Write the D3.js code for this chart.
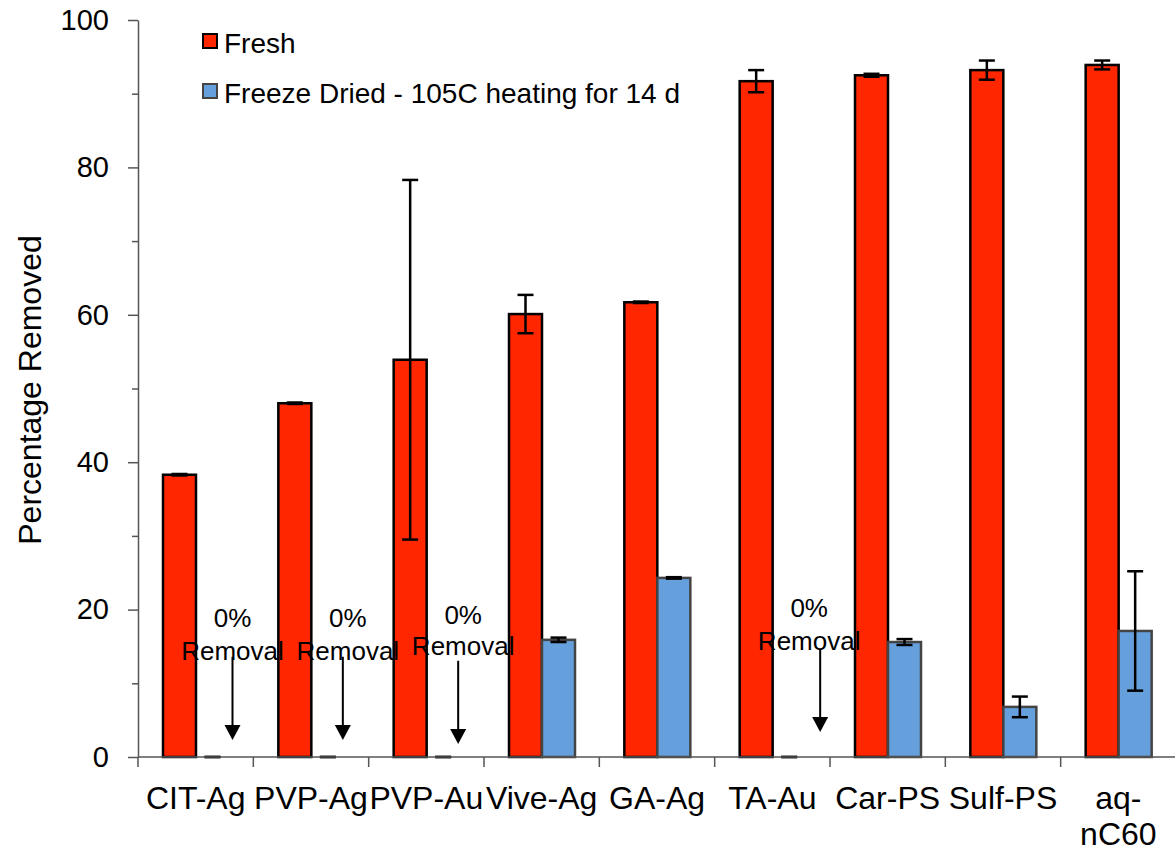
<!DOCTYPE html>
<html>
<head>
<meta charset="utf-8">
<script src="https://cdn.jsdelivr.net/npm/d3@7"></script>
<style>
  body { margin: 0; background: #fff; }
  text { font-family: "Liberation Sans", Arial, sans-serif; fill: #000; }
</style>
</head>
<body>
<svg id="chart"></svg>
<script>
// chart size
var width = 1175,
    height = 848;

// categories and series
var categories = ["CIT-Ag", "PVP-Ag", "PVP-Au", "Vive-Ag", "GA-Ag", "TA-Au", "Car-PS", "Sulf-PS", "aq-nC60"];
var seriesNames = ["Fresh", "Freeze Dried - 105C heating for 14 d"];

// values (percent removed) and their error bars
var freshValues = [38.3, 48.0, 53.9, 60.1, 61.7, 91.7, 92.5, 93.2, 93.9];
var freshErrors = [0.1, 0.1, 24.4, 2.6, 0.1, 1.5, 0.2, 1.3, 0.6];
var driedValues = [0, 0, 0, 15.9, 24.3, 0, 15.6, 6.8, 17.1];
var driedErrors = [0, 0, 0, 0.3, 0.1, 0, 0.4, 1.4, 8.1];

// y ticks
var yTicks = [0, 10, 20, 30, 40, 50, 60, 70, 80, 90, 100];
var yLabels = [0, 20, 40, 60, 80, 100];

// the "0% Removal" notes sit over these categories
var zeroNotes = ["CIT-Ag", "PVP-Ag", "PVP-Au", "TA-Au"];

var colors = ["#ff2600", "#65a0dc"];
var strokes = ["#000", "#444"];

var svg = d3.select("#chart")
    .attr("width", width)
    .attr("height", height);

var x = d3.scaleBand()
    .domain(categories)
    .range([138, 1176]);

var xInner = d3.scaleBand()
    .domain([0, 1])
    .range([25, 91]);

var y = d3.scaleLinear()
    .domain([0, 100])
    .range([757, 20]);

var rows = categories.map(function(c, i) {
  return [
    {cat: c, s: 0, v: freshValues[i], e: freshErrors[i]},
    {cat: c, s: 1, v: driedValues[i], e: driedErrors[i]}
  ];
});
var bars = d3.merge(rows);

// bars
svg.append("g").selectAll("rect")
  .data(bars.filter(function(d) { return d.v > 0; }))
  .enter().append("rect")
    .attr("x", function(d) { return x(d.cat) + xInner(d.s); })
    .attr("y", function(d) { return y(d.v); })
    .attr("width", xInner.bandwidth())
    .attr("height", function(d) { return y(0) - y(d.v); })
    .attr("fill", function(d) { return colors[d.s]; })
    .attr("stroke", function(d) { return strokes[d.s]; })
    .attr("stroke-width", 2.5);

// error bars
var eb = svg.append("g").selectAll("g")
  .data(bars)
  .enter().append("g")
    .attr("transform", function(d) {
      return "translate(" + (x(d.cat) + xInner(d.s) + xInner.bandwidth() / 2) + ",0)";
    })
    .attr("stroke", "#000")
    .attr("stroke-width", 2.5);

eb.append("line")
    .attr("y1", function(d) { return y(d.v + d.e); })
    .attr("y2", function(d) { return y(Math.max(0, d.v - d.e)); });
eb.append("line")
    .attr("x1", -8).attr("x2", 8)
    .attr("y1", function(d) { return y(d.v + d.e); })
    .attr("y2", function(d) { return y(d.v + d.e); });
eb.append("line")
    .attr("x1", -8).attr("x2", 8)
    .attr("y1", function(d) { return y(Math.max(0, d.v - d.e)); })
    .attr("y2", function(d) { return y(Math.max(0, d.v - d.e)); });

// y axis
var yAxis = svg.append("g")
    .attr("transform", "translate(138,0)")
    .call(d3.axisLeft(y)
      .tickValues(yTicks)
      .tickSize(0)
      .tickFormat(function(d) { return yLabels.indexOf(d) >= 0 ? d : ""; })
      .tickPadding(29));
yAxis.select(".domain").attr("stroke", "#555").attr("stroke-width", 1.5);
yAxis.selectAll(".tick line")
    .attr("x2", function(d) { return yLabels.indexOf(d) >= 0 ? -10 : -6; })
    .attr("stroke", "#555")
    .attr("stroke-width", 1.5);
yAxis.selectAll(".tick text")
    .style("font-size", "29px")
    .style("font-family", "'Liberation Sans', Arial, sans-serif")
    .attr("fill", "#000");

// x axis
var xAxisG = svg.append("g").attr("transform", "translate(0,757)");
xAxisG.append("line")
    .attr("x1", 138).attr("x2", width)
    .attr("stroke", "#555").attr("stroke-width", 1.5);
xAxisG.selectAll(".xtick")
  .data(categories)
  .enter().append("line")
    .attr("x1", function(d) { return x(d); })
    .attr("x2", function(d) { return x(d); })
    .attr("y1", 0).attr("y2", 10)
    .attr("stroke", "#555").attr("stroke-width", 1.5);

var xLabels = xAxisG.selectAll(".xlabel")
  .data(categories)
  .enter().append("text")
    .attr("text-anchor", "middle")
    .style("font-size", "32px")
    .attr("y", 52);
xLabels.each(function(d) {
  var t = d3.select(this);
  var parts = d === "aq-nC60" ? ["aq-", "nC60"] : [d];
  parts.forEach(function(p, i) {
    t.append("tspan")
      .attr("x", x(d) + x.bandwidth() / 2)
      .attr("dy", i === 0 ? 0 : 36)
      .text(p);
  });
});

// y title
svg.append("text")
    .attr("transform", "translate(41,390) rotate(-90)")
    .attr("text-anchor", "middle")
    .style("font-size", "32px")
    .text("Percentage Removed");

// "0% Removal" notes with arrows
var notes = svg.append("g").selectAll("g")
  .data(zeroNotes)
  .enter().append("g")
    .attr("transform", function(d) {
      return "translate(" + (x(d) + xInner(1) + xInner.bandwidth() / 2 + 20) + ",0)";
    });
notes.append("text")
    .attr("text-anchor", "middle")
    .attr("y", function(d, i) { return y(17.6) - (i === 3 ? 10 : (i === 2 ? 3 : 0)); })
    .style("font-size", "26px")
    .text("0%");
notes.append("text")
    .attr("text-anchor", "middle")
    .attr("y", function(d, i) { return y(13.2) - (i === 3 ? 10 : (i === 2 ? 5 : 0)); })
    .style("font-size", "26px")
    .text("Removal");
notes.append("line")
    .attr("x1", function(d, i) { return i === 3 ? 11 : (i === 0 ? 0 : -5); })
    .attr("x2", function(d, i) { return i === 3 ? 11 : (i === 0 ? 0 : -5); })
    .attr("y1", function(d, i) { return y(13.6) + (i === 3 ? -8 : (i === 2 ? 4 : 0)); })
    .attr("y2", function(d, i) { return y(3.8) + (i === 3 ? -8 : (i === 2 ? 4 : 0)); })
    .attr("stroke", "#000").attr("stroke-width", 2);
notes.append("path")
    .attr("d", function(d, i) {
      var ax = i === 3 ? 11 : (i === 0 ? 0 : -5);
      var ay = y(2.3) + (i === 3 ? -8 : (i === 2 ? 4 : 0));
      return "M" + (ax - 8) + "," + (ay - 15) + "L" + (ax + 8) + "," + (ay - 15) + "L" + ax + "," + ay + "Z";
    })
    .attr("fill", "#000");

// legend
var legend = svg.append("g").selectAll("g")
  .data(seriesNames)
  .enter().append("g")
    .attr("transform", function(d, i) { return "translate(203," + (34 + i * 50) + ")"; });
legend.append("rect")
    .attr("width", 14).attr("height", 14)
    .attr("fill", function(d, i) { return colors[i]; })
    .attr("stroke", function(d, i) { return strokes[i]; })
    .attr("stroke-width", 2);
legend.append("text")
    .attr("x", 21)
    .attr("y", 19)
    .style("font-size", "28px")
    .text(function(d) { return d; });
</script>
</body>
</html>
